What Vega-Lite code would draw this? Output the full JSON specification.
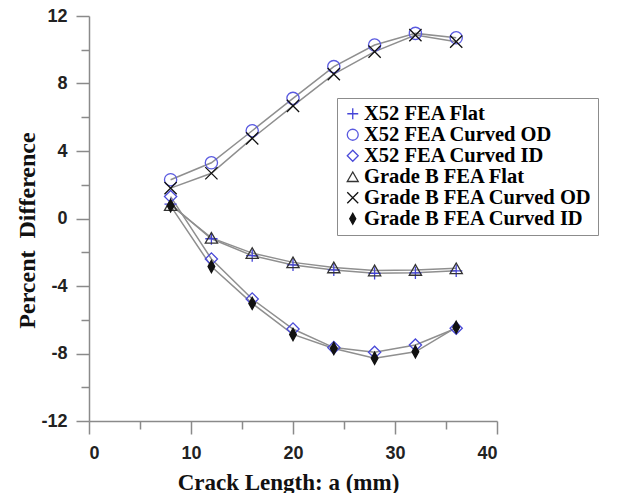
{
  "$schema": "https://vega.github.io/schema/vega-lite/v6.json",
  "width": 408,
  "height": 405,
  "autosize": {"type": "none"},
  "padding": {"left": 89, "top": 16, "right": 130, "bottom": 72},
  "background": "white",
  "config": {
    "view": {"stroke": null},
    "axis": {
      "domainColor": "#8a8a8a",
      "domainWidth": 1.5,
      "tickColor": "#8a8a8a",
      "tickWidth": 1.5,
      "grid": false,
      "labelFont": "Liberation Sans",
      "labelFontWeight": "bold",
      "labelFontSize": 18,
      "labelColor": "#222222",
      "titleFont": "Liberation Serif",
      "titleFontWeight": "bold",
      "titleFontSize": 23,
      "titleColor": "#111111"
    }
  },
  "data": {
    "values": [
      {"a": 8, "pd": 0.85, "series": "X52 FEA Flat"},
      {"a": 12, "pd": -1.2, "series": "X52 FEA Flat"},
      {"a": 16, "pd": -2.2, "series": "X52 FEA Flat"},
      {"a": 20, "pd": -2.75, "series": "X52 FEA Flat"},
      {"a": 24, "pd": -3.05, "series": "X52 FEA Flat"},
      {"a": 28, "pd": -3.25, "series": "X52 FEA Flat"},
      {"a": 32, "pd": -3.22, "series": "X52 FEA Flat"},
      {"a": 36, "pd": -3.1, "series": "X52 FEA Flat"},
      {"a": 8, "pd": 2.3, "series": "X52 FEA Curved OD"},
      {"a": 12, "pd": 3.3, "series": "X52 FEA Curved OD"},
      {"a": 16, "pd": 5.2, "series": "X52 FEA Curved OD"},
      {"a": 20, "pd": 7.12, "series": "X52 FEA Curved OD"},
      {"a": 24, "pd": 9.0, "series": "X52 FEA Curved OD"},
      {"a": 28, "pd": 10.28, "series": "X52 FEA Curved OD"},
      {"a": 32, "pd": 10.97, "series": "X52 FEA Curved OD"},
      {"a": 36, "pd": 10.71, "series": "X52 FEA Curved OD"},
      {"a": 8, "pd": 1.3, "series": "X52 FEA Curved ID"},
      {"a": 12, "pd": -2.4, "series": "X52 FEA Curved ID"},
      {"a": 16, "pd": -4.77, "series": "X52 FEA Curved ID"},
      {"a": 20, "pd": -6.55, "series": "X52 FEA Curved ID"},
      {"a": 24, "pd": -7.65, "series": "X52 FEA Curved ID"},
      {"a": 28, "pd": -7.93, "series": "X52 FEA Curved ID"},
      {"a": 32, "pd": -7.5, "series": "X52 FEA Curved ID"},
      {"a": 36, "pd": -6.5, "series": "X52 FEA Curved ID"},
      {"a": 8, "pd": 0.8, "series": "Grade B FEA Flat"},
      {"a": 12, "pd": -1.15, "series": "Grade B FEA Flat"},
      {"a": 16, "pd": -2.05, "series": "Grade B FEA Flat"},
      {"a": 20, "pd": -2.6, "series": "Grade B FEA Flat"},
      {"a": 24, "pd": -2.9, "series": "Grade B FEA Flat"},
      {"a": 28, "pd": -3.08, "series": "Grade B FEA Flat"},
      {"a": 32, "pd": -3.05, "series": "Grade B FEA Flat"},
      {"a": 36, "pd": -2.95, "series": "Grade B FEA Flat"},
      {"a": 8, "pd": 1.8, "series": "Grade B FEA Curved OD"},
      {"a": 12, "pd": 2.68, "series": "Grade B FEA Curved OD"},
      {"a": 16, "pd": 4.75, "series": "Grade B FEA Curved OD"},
      {"a": 20, "pd": 6.67, "series": "Grade B FEA Curved OD"},
      {"a": 24, "pd": 8.56, "series": "Grade B FEA Curved OD"},
      {"a": 28, "pd": 9.89, "series": "Grade B FEA Curved OD"},
      {"a": 32, "pd": 10.87, "series": "Grade B FEA Curved OD"},
      {"a": 36, "pd": 10.48, "series": "Grade B FEA Curved OD"},
      {"a": 8, "pd": 0.75, "series": "Grade B FEA Curved ID"},
      {"a": 12, "pd": -2.85, "series": "Grade B FEA Curved ID"},
      {"a": 16, "pd": -5.03, "series": "Grade B FEA Curved ID"},
      {"a": 20, "pd": -6.87, "series": "Grade B FEA Curved ID"},
      {"a": 24, "pd": -7.7, "series": "Grade B FEA Curved ID"},
      {"a": 28, "pd": -8.28, "series": "Grade B FEA Curved ID"},
      {"a": 32, "pd": -7.9, "series": "Grade B FEA Curved ID"},
      {"a": 36, "pd": -6.45, "series": "Grade B FEA Curved ID"}
    ]
  },
  "encoding": {
    "x": {
      "field": "a",
      "type": "quantitative",
      "scale": {"domain": [0, 40], "nice": false, "zero": false},
      "axis": {
        "title": "Crack Length: a (mm)",
        "values": [0, 5, 10, 15, 20, 25, 30, 35, 40],
        "labelExpr": "datum.value % 10 === 0 ? '' + datum.value : ''",
        "tickSize": {"condition": {"test": "datum.value % 10 === 0", "value": 13}, "value": 8},
        "labelPadding": 10,
        "titleBaseline": "alphabetic",
        "titleY": 68,
        "titleX": 199
      }
    },
    "y": {
      "field": "pd",
      "type": "quantitative",
      "scale": {"domain": [-12, 12], "nice": false, "zero": false},
      "axis": {
        "title": "Percent\u00a0 Difference",
        "titleFontSize": 24,
        "values": [-12, -10, -8, -6, -4, -2, 0, 2, 4, 6, 8, 10, 12],
        "labelExpr": "datum.value % 4 === 0 ? '' + datum.value : ''",
        "tickSize": {"condition": {"test": "datum.value % 4 === 0", "value": 13}, "value": 8},
        "labelPadding": 9,
        "titleBaseline": "alphabetic",
        "titleX": -55,
        "titleY": 214
      }
    }
  },
  "layer": [
    {
      "mark": {"type": "line", "color": "#8f8f8f", "strokeWidth": 1.5},
      "encoding": {"detail": {"field": "series"}}
    },
    {
      "mark": {"type": "point", "size": 150, "strokeWidth": 1.3, "opacity": 1},
      "encoding": {
        "shape": {
          "field": "series",
          "type": "nominal",
          "scale": {
            "domain": ["X52 FEA Flat", "X52 FEA Curved OD", "X52 FEA Curved ID", "Grade B FEA Flat", "Grade B FEA Curved OD", "Grade B FEA Curved ID"],
            "range": ["M-1,0L1,0M0,-1L0,1", "circle", "diamond", "triangle-up", "M-1,-1L1,1M-1,1L1,-1", "M0,-1L0.55,0L0,1L-0.55,0Z"]
          },
          "legend": {
            "title": null,
            "orient": "none",
            "legendX": 248,
            "legendY": 82,
            "strokeColor": "#8c8c8c",
            "fillColor": "white",
            "padding": 5.5,
            "labelFont": "Liberation Serif",
            "labelFontWeight": "bold",
            "labelFontSize": 20.5,
            "labelLimit": 400,
            "labelOffset": 1,
            "rowPadding": 0,
            "symbolSize": 120,
            "symbolStrokeWidth": 1.3,
            "encode": {
              "labels": {
                "update": {
                  "fill": {"signal": "indexof(datum.label, 'X52') === 0 ? '#2424c8' : '#111111'"}
                }
              }
            }
          }
        },
        "stroke": {
          "field": "series",
          "type": "nominal",
          "scale": {
            "domain": ["X52 FEA Flat", "X52 FEA Curved OD", "X52 FEA Curved ID", "Grade B FEA Flat", "Grade B FEA Curved OD", "Grade B FEA Curved ID"],
            "range": ["#4444d8", "#5a5ae0", "#4a4ad8", "#333333", "#111111", "#111111"]
          }
        },
        "fill": {
          "field": "series",
          "type": "nominal",
          "scale": {
            "domain": ["X52 FEA Flat", "X52 FEA Curved OD", "X52 FEA Curved ID", "Grade B FEA Flat", "Grade B FEA Curved OD", "Grade B FEA Curved ID"],
            "range": ["transparent", "transparent", "transparent", "transparent", "transparent", "#111111"]
          }
        }
      }
    }
  ]
}
